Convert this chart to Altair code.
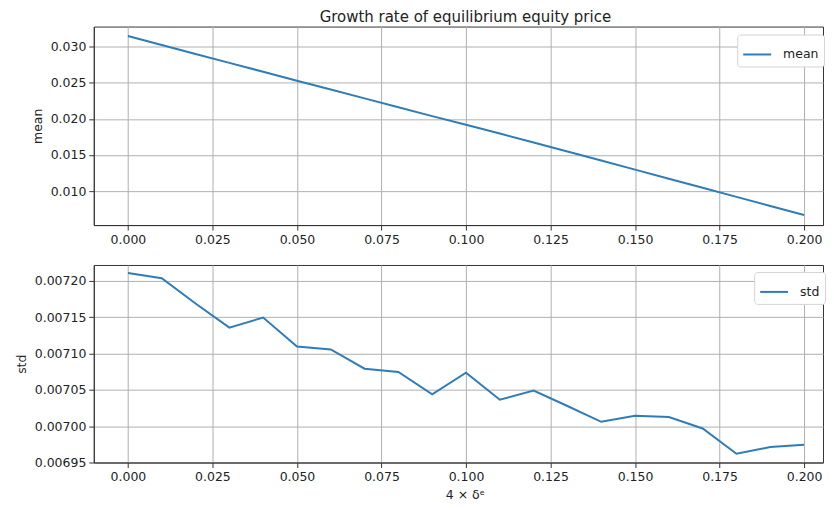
import altair as alt
import pandas as pd

# ---- data ----
x_vals = [0.00, 0.01, 0.02, 0.03, 0.04, 0.05, 0.06, 0.07, 0.08, 0.09, 0.10,
          0.11, 0.12, 0.13, 0.14, 0.15, 0.16, 0.17, 0.18, 0.19, 0.20]
mean_vals = [0.03150, 0.03025, 0.02900, 0.02777, 0.02653, 0.02530, 0.02407,
             0.02284, 0.02161, 0.02038, 0.01920, 0.01797, 0.01673, 0.01548,
             0.01423, 0.01297, 0.01171, 0.01045, 0.00919, 0.00793, 0.00667]
std_vals = [0.007211, 0.0072037, 0.007169, 0.0071357, 0.0071496, 0.0071097,
            0.0071056, 0.0070792, 0.0070746, 0.007044, 0.0070737, 0.0070365,
            0.007049, 0.0070278, 0.007006, 0.0070143, 0.0070125, 0.0069968,
            0.006962, 0.0069713, 0.0069746]

x_ticks = [0.0, 0.025, 0.05, 0.075, 0.1, 0.125, 0.15, 0.175, 0.2]
mean_ticks = [0.010, 0.015, 0.020, 0.025, 0.030]
std_ticks = [0.00695, 0.00700, 0.00705, 0.00710, 0.00715, 0.00720]

title_text = "Growth rate of equilibrium equity price"
x_title = "4 × δᵉ"

LINE = "#2f7db8"
FONT = "DejaVu Sans"
W = 731

df = pd.DataFrame({"x": x_vals, "mean": mean_vals, "std": std_vals})

x_scale = alt.Scale(domain=[-0.0101, 0.2056], nice=False, zero=False)


def legend(lx, ly):
    return alt.Legend(
        title=None, orient="none", legendX=lx, legendY=ly,
        symbolType="stroke", symbolSize=784, symbolStrokeWidth=2,
        labelFont=FONT, labelFontSize=12.5, labelColor="#222",
        padding=5, labelOffset=11, strokeColor="#d4d4d4",
        fillColor="white", cornerRadius=3,
    )


top = (
    alt.Chart(df)
    .transform_fold(["mean"], as_=["series", "val"])
    .mark_line(strokeWidth=2)
    .encode(
        x=alt.X("x:Q", scale=x_scale,
                axis=alt.Axis(values=x_ticks, format=".3f", title=None)),
        y=alt.Y("val:Q",
                scale=alt.Scale(domain=[0.00528, 0.0328], nice=False, zero=False),
                axis=alt.Axis(values=mean_ticks, format=".3f", title="mean")),
        color=alt.Color("series:N", scale=alt.Scale(domain=["mean"], range=[LINE]),
                        legend=legend(645, 8)),
    )
    .properties(width=W, height=199,
                title=alt.TitleParams(title_text, frame="group", anchor="middle",
                                      fontSize=15, font=FONT, fontWeight="normal",
                                      color="#222", offset=2, dx=7))
)

bottom = (
    alt.Chart(df)
    .transform_fold(["std"], as_=["series", "val"])
    .mark_line(strokeWidth=2)
    .encode(
        x=alt.X("x:Q", scale=x_scale,
                axis=alt.Axis(values=x_ticks, format=".3f", title=x_title,
                              titleX=372)),
        y=alt.Y("val:Q",
                scale=alt.Scale(domain=[0.00695, 0.007222], nice=False, zero=False),
                axis=alt.Axis(values=std_ticks, format=".5f", title="std")),
        color=alt.Color("series:N", scale=alt.Scale(domain=["std"], range=[LINE]),
                        legend=legend(662, 7)),
    )
    .properties(width=W, height=198)
)

chart = (
    alt.vconcat(top, bottom, spacing=18)
    .resolve_scale(color="independent")
    .resolve_legend(color="independent")
    .properties(padding={"left": 6, "top": 0, "right": 0, "bottom": 0})
    .configure_view(stroke="#333", strokeWidth=1)
    .configure_axis(
        labelFont=FONT, labelFontSize=12.5, labelColor="#222",
        titleFont=FONT, titleFontSize=12.5, titleFontWeight="normal", titleColor="#222",
        gridColor="#b0b0b0", gridWidth=1, domainColor="#333", domainWidth=1,
        tickColor="#333", tickSize=5, labelPadding=3, titlePadding=6,
    )
)

chart.save("out.html", embed_options={"renderer": "svg", "actions": False})
